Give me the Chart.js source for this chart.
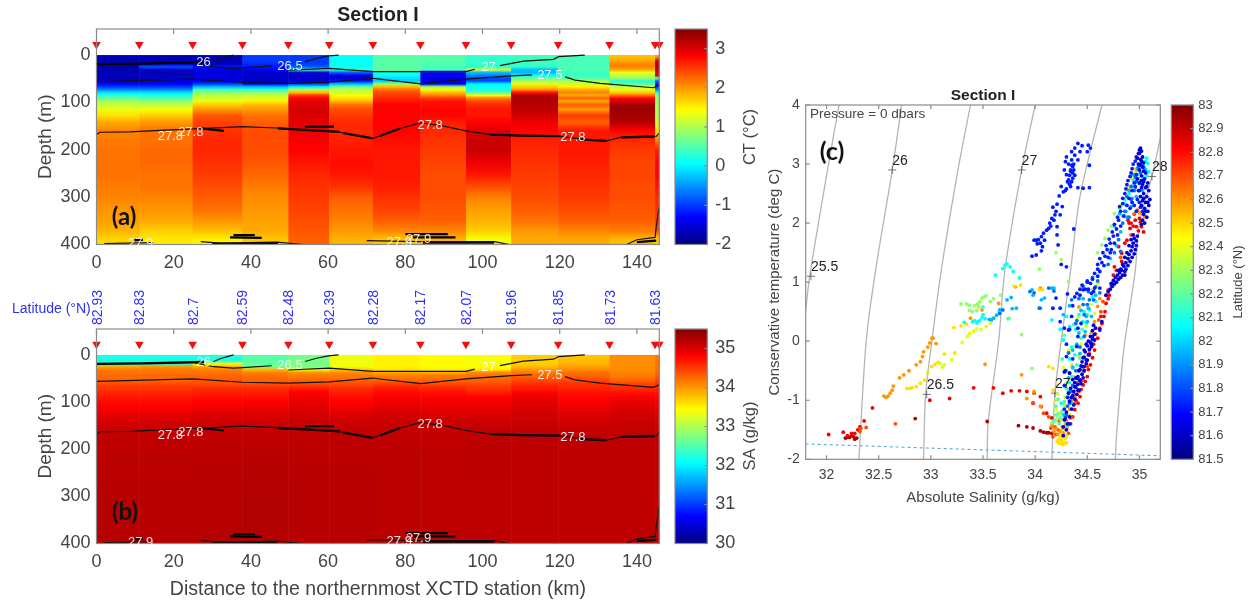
<!DOCTYPE html>
<html>
<head>
<meta charset="utf-8">
<title>Section I</title>
<script src="https://cdn.jsdelivr.net/npm/chart.js@4/dist/chart.umd.min.js"></script>
<style>
  html, body { margin: 0; background: #fff; }
  #page { position: relative; width: 1259px; height: 602px; overflow: hidden; }
  canvas { position: absolute; left: 0; top: 0; }
</style>
</head>
<body>
<div id="page"></div>
<script>
// Station positions and section ticks
const stationKm = [0, 11.1, 24.9, 37.8, 49.7, 60.3, 71.6, 83.9, 95.7, 107.4, 119.6, 132.9, 144.7]
const markerKm = [0, 11.1, 24.9, 37.8, 49.7, 60.3, 71.6, 83.9, 95.7, 107.4, 119.6, 132.9, 144.7, 145.8]
const latitudeLabels = ['82.93', '82.83', '82.7', '82.59', '82.48', '82.39', '82.28', '82.17', '82.07', '81.96', '81.85', '81.73', '81.63']
const kmTicks = [0, 20, 40, 60, 80, 100, 120, 140]
const depthTicks = [0, 100, 200, 300, 400]
const ctTicks = [-2, -1, 0, 1, 2, 3]
const saTicks = [30, 31, 32, 33, 34, 35]
const salinityTicks = [32, 32.5, 33, 33.5, 34, 34.5, 35]
const temperatureTicks = [-2, -1, 0, 1, 2, 3, 4]
const latitudeTicks = [81.5, 81.6, 81.7, 81.8, 81.9, 82, 82.1, 82.2, 82.3, 82.4, 82.5, 82.6, 82.7, 82.8, 82.9, 83]

// Depth edges of the section cells (m)
const depthEdges = [0, 8, 16, 22, 28, 34, 40, 46, 52, 58, 64, 70, 76, 82, 88, 94, 100, 110, 120, 135, 150, 170, 190, 215, 240, 265, 290, 315, 340, 360, 380, 400]

// Conservative temperature per station, one value per depth cell
const ctStation01 = [-1.7, -1.7, -1.7, -1.8, -1.7, -1.7, -1.7, -1.7, -1.6, -1.3, -1.0, -0.6, -0.1, 0.3, 0.6, 0.9, 1.15, 1.3, 1.6, 1.9, 2.1, 2.15, 2.2, 2.2, 2.2, 2.15, 2.1, 2.0, 1.95, 1.85, 1.65]
const ctStation02 = [-1.7, -1.7, -1.6, -0.9, -1.6, -1.7, -1.7, -1.6, -1.5, -1.3, -1.0, -0.6, -0.1, 0.2, 0.5, 0.8, 1.1, 1.4, 1.7, 2.0, 2.2, 2.2, 2.25, 2.25, 2.2, 2.2, 2.1, 2.0, 1.9, 1.7, 1.55]
const ctStation03 = [-1.7, -1.7, -1.7, -1.2, -1.5, -1.5, -1.5, -1.5, -1.4, -1.0, -0.3, 0.4, 0.8, 1.05, 1.2, 1.35, 1.7, 2.0, 2.35, 2.45, 2.55, 2.6, 2.6, 2.55, 2.5, 2.4, 2.3, 2.2, 2.0, 1.8, 1.5]
const ctStation04 = [-1.0, -1.0, -1.1, -1.2, -1.3, -1.6, -1.6, -1.6, -1.6, -1.3, -0.3, 0.3, 0.8, 1.1, 1.3, 1.5, 1.8, 2.0, 2.2, 2.3, 2.4, 2.4, 2.4, 2.35, 2.25, 2.15, 2.05, 2.0, 1.95, 1.9, 1.75]
const ctStation05 = [-1.0, -1.0, -1.0, -0.8, 0.4, -1.5, -1.6, -1.6, -1.5, -1.0, 0.0, 1.0, 1.8, 2.5, 2.8, 2.95, 3.0, 3.05, 3.0, 2.95, 2.9, 2.85, 2.8, 2.7, 2.6, 2.55, 2.5, 2.45, 2.4, 2.35, 2.3]
const ctStation06 = [0.1, 0.1, 0.1, 0.15, 0.3, -0.8, -1.5, -1.5, -1.2, -0.3, 0.6, 1.1, 1.2, 1.4, 1.6, 1.8, 2.2, 2.4, 2.5, 2.6, 2.6, 2.65, 2.7, 2.75, 2.7, 2.55, 2.3, 2.2, 2.1, 2.0, 1.85]
const ctStation07 = [0.55, 0.55, 0.55, 0.55, 0.55, 0.2, 0.1, -0.1, -0.2, 0.9, 1.8, 2.2, 2.4, 2.5, 2.6, 2.7, 2.8, 2.8, 2.8, 2.8, 2.8, 2.75, 2.7, 2.7, 2.7, 2.65, 2.55, 2.45, 2.3, 2.1, 1.75]
const ctStation08 = [0.55, 0.5, 0.5, 0.45, 0.4, -1.3, -1.4, -1.45, -1.45, -1.3, 0.9, 1.4, 1.8, 2.1, 2.5, 2.7, 2.75, 2.8, 2.8, 2.65, 2.6, 2.55, 2.5, 2.45, 2.4, 2.4, 2.4, 2.35, 2.3, 2.1, 1.85]
const ctStation09 = [0.35, 0.35, 0.3, 0.35, 1.3, -0.3, -0.6, -0.9, -0.9, 0.0, 0.1, 0.2, 0.5, 1.4, 2.1, 2.4, 2.6, 2.7, 2.7, 2.8, 3.0, 3.1, 3.1, 2.9, 2.7, 2.4, 2.1, 1.95, 1.85, 1.7, 1.4]
const ctStation10 = [0.4, 0.4, 0.4, 0.3, -0.3, -0.3, 0.1, 0.6, 1.0, 1.3, 1.7, 2.0, 2.7, 3.2, 3.25, 3.25, 3.2, 3.15, 3.05, 2.9, 2.8, 2.65, 2.6, 2.55, 2.5, 2.45, 2.4, 2.3, 2.2, 2.0, 1.9]
const ctStation11 = [0.45, 0.45, 0.45, 0.45, 0.45, 0.4, 0.35, 0.5, 1.0, 1.2, 1.5, 1.9, 2.1, 1.9, 2.3, 1.9, 2.3, 2.0, 2.5, 2.3, 2.7, 2.7, 2.7, 2.65, 2.6, 2.55, 2.5, 2.4, 2.3, 2.1, 1.9]
const ctStation12 = [1.8, 1.9, 2.1, 2.1, 1.9, 1.3, 1.1, 0.9, 0.2, 0.6, 1.1, 1.3, 1.7, 2.2, 2.8, 3.0, 3.3, 3.35, 3.3, 3.2, 2.8, 2.6, 2.5, 2.45, 2.45, 2.4, 2.4, 2.35, 2.3, 2.15, 1.8]
const ctStation13 = [2.0, 3.1, 3.2, 3.2, 3.1, 3.0, 3.0, 0.6, -0.8, -1.2, -1.0, -0.6, 0.2, 0.8, 0.9, 0.9, 0.9, 1.0, 1.0, 1.2, 1.6, 2.1, 2.7, 2.8, 2.8, 2.7, 2.6, 2.55, 2.5, 2.4, 1.7]

// Absolute salinity per station, one value per depth cell
const saStation01 = [32.2, 32.2, 32.25, 33.9, 34.15, 34.2, 34.25, 34.25, 34.3, 34.4, 34.5, 34.55, 34.6, 34.65, 34.7, 34.75, 34.8, 34.85, 34.95, 35.05, 35.12, 35.15, 35.15, 35.18, 35.18, 35.2, 35.2, 35.2, 35.2, 35.2, 35.2]
const saStation02 = [32.2, 32.2, 32.3, 34.0, 34.15, 34.2, 34.25, 34.25, 34.3, 34.4, 34.5, 34.55, 34.6, 34.65, 34.7, 34.75, 34.8, 34.85, 34.95, 35.05, 35.12, 35.15, 35.15, 35.18, 35.18, 35.2, 35.2, 35.2, 35.2, 35.2, 35.2]
const saStation03 = [32.25, 32.25, 33.4, 33.9, 34.1, 34.2, 34.25, 34.3, 34.35, 34.4, 34.5, 34.6, 34.65, 34.7, 34.75, 34.8, 34.85, 34.9, 35.0, 35.08, 35.12, 35.15, 35.16, 35.18, 35.2, 35.2, 35.2, 35.2, 35.2, 35.2, 35.2]
const saStation04 = [32.55, 32.55, 32.6, 32.7, 33.8, 34.1, 34.2, 34.25, 34.3, 34.4, 34.5, 34.6, 34.65, 34.7, 34.75, 34.8, 34.85, 34.92, 35.0, 35.08, 35.14, 35.16, 35.18, 35.2, 35.2, 35.22, 35.22, 35.22, 35.22, 35.22, 35.2]
const saStation05 = [32.7, 32.7, 32.7, 32.75, 33.3, 34.0, 34.15, 34.2, 34.3, 34.4, 34.55, 34.7, 34.8, 34.85, 34.88, 34.9, 34.95, 35.0, 35.05, 35.1, 35.14, 35.16, 35.18, 35.18, 35.2, 35.2, 35.2, 35.2, 35.2, 35.2, 35.2]
const saStation06 = [33.35, 33.35, 33.35, 33.4, 33.7, 34.05, 34.15, 34.2, 34.3, 34.4, 34.5, 34.6, 34.65, 34.7, 34.75, 34.8, 34.85, 34.9, 35.0, 35.08, 35.14, 35.16, 35.18, 35.18, 35.2, 35.2, 35.2, 35.2, 35.2, 35.2, 35.2]
const saStation07 = [33.5, 33.5, 33.5, 33.5, 33.55, 33.9, 34.1, 34.2, 34.3, 34.45, 34.6, 34.7, 34.75, 34.8, 34.85, 34.88, 34.92, 34.98, 35.05, 35.1, 35.13, 35.15, 35.17, 35.18, 35.18, 35.18, 35.18, 35.18, 35.18, 35.18, 35.18]
const saStation08 = [33.45, 33.45, 33.45, 33.45, 33.5, 33.85, 34.15, 34.2, 34.3, 34.4, 34.55, 34.65, 34.72, 34.78, 34.82, 34.86, 34.9, 34.96, 35.02, 35.08, 35.12, 35.14, 35.15, 35.16, 35.16, 35.16, 35.16, 35.16, 35.16, 35.16, 35.15]
const saStation09 = [33.4, 33.4, 33.4, 33.45, 33.55, 34.05, 34.2, 34.25, 34.3, 34.4, 34.5, 34.55, 34.65, 34.75, 34.82, 34.86, 34.9, 34.96, 35.02, 35.08, 35.14, 35.17, 35.18, 35.18, 35.18, 35.16, 35.16, 35.16, 35.16, 35.16, 35.15]
const saStation10 = [33.7, 33.7, 33.7, 33.8, 34.0, 34.15, 34.25, 34.35, 34.45, 34.55, 34.65, 34.7, 34.8, 34.88, 34.92, 34.94, 34.98, 35.02, 35.06, 35.1, 35.14, 35.16, 35.16, 35.16, 35.16, 35.16, 35.16, 35.16, 35.16, 35.16, 35.15]
const saStation11 = [33.75, 33.8, 33.85, 33.95, 34.05, 34.2, 34.25, 34.35, 34.45, 34.55, 34.6, 34.65, 34.72, 34.75, 34.8, 34.82, 34.88, 34.92, 35.0, 35.06, 35.12, 35.15, 35.15, 35.15, 35.16, 35.16, 35.16, 35.16, 35.16, 35.16, 35.15]
const saStation12 = [34.05, 34.05, 34.05, 34.05, 34.05, 34.1, 34.15, 34.2, 34.3, 34.45, 34.55, 34.62, 34.7, 34.78, 34.85, 34.9, 34.96, 35.02, 35.06, 35.1, 35.13, 35.15, 35.15, 35.15, 35.16, 35.16, 35.16, 35.16, 35.16, 35.16, 35.15]
const saStation13 = [34.15, 34.2, 34.2, 34.2, 34.25, 34.25, 34.3, 34.4, 34.5, 34.55, 34.6, 34.65, 34.7, 34.75, 34.8, 34.85, 34.9, 34.95, 35.0, 35.05, 35.1, 35.13, 35.15, 35.15, 35.16, 35.16, 35.16, 35.16, 35.16, 35.16, 35.15]

// Isopycnal contours, [km, depth]
const contour26Up = [[30.3, 14], [32.4, 7], [35.5, 0]]
const contour265Left = [[25, 16], [30.3, 25], [35.5, 28], [37.8, 27], [45.4, 23]]
const contour265Up = [[54, 14], [57, 7], [60, 2], [62.7, 0]]
const contour27Main = [[49.7, 32], [60.3, 28], [71.6, 35], [84, 35], [95.7, 35], [98, 30]]
const contour27Up = [[104.5, 22.5], [110.6, 13], [118.4, 9], [119.7, 3.5], [126.5, 0]]
const contour275Left = [[0, 56], [25, 51], [37.8, 58], [49.7, 60], [60.3, 57], [71.6, 49], [73.4, 51], [84, 61], [95.7, 51], [107.4, 44], [112.8, 42]]
const contour275Right = [[121.4, 46], [124, 53], [130.5, 60], [144.3, 69], [145.8, 63]]
const contour278 = [[0, 168], [0.9, 163], [8.7, 162], [16.5, 159], [28.5, 155], [37.6, 151], [46.7, 154], [54.4, 158], [63, 163], [71.6, 176], [73.4, 171], [78.6, 155], [84, 143], [90, 150], [95.7, 160], [102, 168], [110.7, 170], [119.6, 171], [126.3, 178], [132.2, 181], [135.7, 174], [145, 172], [145.8, 165]]
const contour279Left = [[2, 398], [8, 397], [14.7, 396]]
const contour279Mid = [[27, 394], [32, 397], [46.7, 395], [53.6, 400]]
const contour279Right = [[70, 392], [84, 394], [103, 394], [107, 400]]
const contour279Edge = [[137.3, 400], [140, 390], [144.7, 385], [145, 363], [145.8, 320]]
const thinContours = [contour26Up, contour265Left, contour265Up, contour27Main, contour27Up, contour275Left, contour275Right, contour278, contour279Left, contour279Mid, contour279Right, contour279Edge]

const blob26 = [[0, 19], [12, 18], [28, 15]]
const blob278A = [[27, 155], [33, 160]]
const blob278B = [[47, 155], [54, 158], [63, 162]]
const blob278C = [[54, 151], [61.5, 151]]
const blob278D = [[64, 165], [71.6, 176]]
const blob278E = [[73.4, 171], [78.6, 155]]
const blob278F = [[102, 168], [110, 170], [120, 171]]
const blob278G = [[125, 178], [132, 181]]
const blob278H = [[136, 174], [144.5, 172]]
const blob279A = [[9.5, 391], [12, 390]]
const blob279B = [[35.5, 380], [41, 380]]
const blob279C = [[34.6, 385], [42.8, 386]]
const blob279D = [[30, 398], [47, 398]]
const blob279E = [[80, 378], [91, 378]]
const blob279F = [[82, 385], [93, 385]]
const blob279G = [[84.5, 396], [103, 396]]
const blob279H = [[140, 395], [145, 392]]
const thickContours = [blob26, blob278A, blob278B, blob278C, blob278D, blob278E, blob278F, blob278G, blob278H, blob279A, blob279B, blob279C, blob279D, blob279E, blob279F, blob279G, blob279H]

const contourLabelText = ['26', '26.5', '27', '27.5', '27.8', '27.8', '27.8', '27.8', '27.9', '27.9', '27.9']
const contourLabelKm = [28.7, 49.7, 102.5, 117, 18.7, 24, 86, 123, 11, 78, 83]
const contourLabelDepth = [15, 23, 27, 44, 171, 164, 148, 174, 397, 396, 390]

// T-S scatter per station, [absolute salinity, conservative temperature]
const ts8163 = [[34.27, -1.6], [34.3, -1.5], [34.27, -1.45], [34.31, -1.4], [34.28, -1.33], [34.33, -1.28], [34.3, -1.2], [34.35, -1.15], [34.37, -1.08], [34.33, -1.02], [34.38, -0.98], [34.36, -0.92], [34.4, -0.9], [34.37, -0.85], [34.42, -0.83], [34.39, -0.78], [34.41, -0.73], [34.44, -0.72], [34.38, -0.7], [34.43, -0.66], [34.46, -0.62], [34.41, -0.6], [34.45, -0.56], [34.47, -0.5], [34.43, -0.48], [34.47, -0.43], [34.49, -0.38], [34.45, -0.35], [34.5, -0.32], [34.47, -0.27], [34.51, -0.23], [34.48, -0.18], [34.52, -0.14], [34.5, -0.08], [34.54, -0.05], [34.51, 0], [34.55, 0.03], [34.53, 0.08], [34.57, 0.12], [34.55, 0.18], [34.58, 0.22], [34.56, 0.27],
  [34.68, 0.78], [34.7, 0.84], [34.72, 0.88], [34.74, 0.93], [34.76, 0.97], [34.73, 0.98], [34.78, 1.0], [34.75, 1.03], [34.8, 1.05], [34.77, 1.08], [34.82, 1.08], [34.79, 1.12], [34.84, 1.12], [34.81, 1.16], [34.86, 1.18], [34.83, 1.2], [34.87, 1.22], [34.85, 1.27], [34.89, 1.28], [34.87, 1.33], [34.91, 1.35], [34.89, 1.4], [34.93, 1.42], [34.9, 1.47], [34.95, 1.48], [34.92, 1.53], [34.96, 1.55], [34.93, 1.6], [34.97, 1.62], [34.94, 1.66], [34.97, 1.7], [34.95, 1.74], [34.98, 1.78],
  [35.05, 2.0], [35.07, 2.1], [35.04, 2.15], [35.08, 2.2], [35.05, 2.25], [35.09, 2.3], [35.06, 2.35], [35.1, 2.4], [35.07, 2.45], [35.04, 2.5], [35.09, 2.55], [35.06, 2.6], [35.03, 2.65], [35.08, 2.68], [35.05, 2.75], [35.02, 2.8], [35.06, 2.85], [35.0, 2.9], [35.03, 2.95], [34.99, 3.0], [35.04, 3.02], [35.01, 3.08], [34.98, 3.1], [35.03, 3.12], [35.0, 3.18], [35.02, 3.22], [35.01, 3.27], [35.0, 3.24],
  [35.02, 2.3], [35.03, 2.38], [35.01, 2.45], [35.0, 2.55], [35.02, 2.6], [35.0, 2.68], [34.98, 2.75],
  [34.28, -0.52], [34.33, -0.54], [34.4, -0.63], [34.38, -0.77], [34.43, -0.66], [34.41, -0.83], [34.46, -0.43], [34.49, -0.32], [34.54, -0.09], [34.52, -0.23], [34.57, 0.02], [34.62, 0.19], [34.64, 0.33], [34.35, -0.95], [34.34, -0.8], [34.36, -0.65], [34.32, -0.88], [34.39, -0.62], [34.42, -0.5], [34.44, -0.42], [34.46, -0.28], [34.47, -0.15], [34.49, -0.05], [34.53, -0.02], [34.55, 0.08],
  [34.88, 1.5], [34.86, 1.42], [34.84, 1.3], [34.9, 1.62], [34.92, 1.72], [34.94, 1.8], [34.82, 1.22], [34.8, 1.2], [34.86, 1.12], [35.02, 1.98], [35.03, 2.05], [35.06, 2.2], [35.08, 2.35], [35.04, 2.42], [35.07, 2.62], [35.04, 2.7], [35.02, 2.72], [35.04, 2.88], [35.01, 2.98], [35.02, 3.05]]
const ts8173 = [[34.41, 3.35], [34.51, 3.32], [34.45, 3.31], [34.53, 3.27], [34.38, 3.27], [34.35, 3.21], [34.43, 3.21], [34.5, 3.21], [34.3, 3.12], [34.35, 3.07], [34.38, 3.15], [34.29, 3.04], [34.41, 3.07], [34.52, 2.98], [34.35, 2.98], [34.37, 2.9], [34.28, 2.9], [34.33, 2.81], [34.38, 2.81], [34.32, 2.73], [34.35, 2.7], [34.25, 2.62], [34.41, 2.6], [34.46, 2.59], [34.52, 2.6], [34.27, 2.53], [34.23, 2.46], [34.21, 2.32], [34.26, 2.28], [34.17, 2.27], [34.19, 2.14], [34.16, 2.08], [34.24, 2.14], [34.14, 2.0], [34.13, 1.91], [34.21, 1.94], [34.08, 1.83], [34.06, 1.77], [34.01, 1.71], [34.05, 1.66], [34.09, 1.71], [33.99, 1.71], [34.21, 1.8], [34.22, 1.63], [34.37, 1.9], [33.97, 1.44], [34.06, 1.53], [34.01, 1.46], [34.3, 1.26], [34.25, 1.3], [34.36, 2.96], [34.34, 2.88], [34.36, 2.76], [34.33, 2.66], [34.3, 2.58],
  [34.32, 3.0], [34.37, 3.0], [34.34, 2.9], [34.3, 2.82], [34.36, 2.85], [34.31, 2.7], [34.34, 2.62], [34.29, 2.55], [34.2, 2.2], [34.18, 2.05], [34.15, 1.95], [34.11, 1.88], [34.03, 1.72], [34.02, 1.65], [34.07, 1.6],
  [34.99, 3.18], [34.96, 3.05], [34.93, 2.92], [34.91, 2.79], [34.88, 2.65], [34.86, 2.5], [34.84, 2.33], [34.82, 2.2], [34.8, 2.05], [34.78, 1.9], [34.75, 1.78], [34.72, 1.66], [34.69, 1.55], [34.67, 1.44], [34.64, 1.33], [34.6, 1.22], [34.57, 1.15], [34.7, 1.42], [34.73, 1.55], [34.76, 1.66], [34.79, 1.8], [34.82, 1.95], [34.85, 2.12], [34.88, 2.3], [34.9, 2.42], [34.93, 2.55], [34.95, 2.68], [34.97, 2.82],
  [34.6, 1.3], [34.62, 1.4], [34.65, 1.5], [34.68, 1.62], [34.71, 1.73], [34.74, 1.85], [34.76, 1.98], [34.79, 2.1], [34.81, 2.28], [34.84, 2.42], [34.87, 2.58], [34.89, 2.72], [34.92, 2.85], [34.94, 3.0], [34.97, 3.12], [34.72, 1.5], [34.66, 1.28], [34.62, 1.18], [34.55, 1.05], [34.5, 1.0],
  [34.97, 2.2], [34.95, 2.3], [34.98, 2.4], [35.0, 2.35], [34.99, 2.55], [34.96, 2.62], [35.03, 2.2], [35.01, 2.27], [34.93, 2.35], [34.91, 2.25],
  [34.32, 0.19], [34.41, 0.08], [34.3, -0.26], [34.4, -0.09], [34.29, -0.5], [34.33, -0.54], [34.24, 0.33], [34.35, 0.42], [34.56, 0.84], [34.62, 0.9], [34.6, 1.1], [34.4, 0.81], [34.38, 0.75], [34.2, 0.73], [34.24, 0.56], [34.17, 0.56], [34.31, 0.8], [34.45, 0.95], [34.5, 1.02], [34.53, 0.98], [34.48, 0.88], [34.43, 0.88], [34.36, 0.6], [34.3, -0.05], [34.36, -0.3], [34.28, -0.75], [34.31, -0.95], [34.28, -1.15], [34.33, -1.4], [34.29, -1.3],
  [34.43, 0.78], [34.46, 0.87], [34.51, 0.88], [34.54, 0.81], [34.57, 0.9], [34.28, 0.22], [34.33, 0.2], [34.41, 0.22], [34.44, 0.3]]
const ts8185 = [[33.95, 0.84], [33.99, 0.82], [34.04, 0.56], [34.13, 0.9], [34.18, 0.85], [34.35, 0.7], [34.42, 0.72], [34.51, 0.84], [34.46, 0.93], [34.6, 1.02], [33.69, 0.53], [33.66, 0.47], [34.46, 0.62], [34.58, 0.92], [34.55, 1.08], [34.52, 0.7], [34.39, 0.3],
  [34.9, 2.1], [34.88, 2.45], [34.92, 2.62], [34.96, 2.78], [34.99, 2.95], [35.02, 3.02], [34.84, 2.0], [34.8, 1.72], [34.76, 1.5], [34.7, 1.3], [34.82, 1.52], [34.31, -1.1], [34.34, -0.85],
  [34.32, -0.2], [34.4, 0.35], [34.47, 0.45], [34.5, 0.62], [34.56, 0.7], [34.62, 0.82], [34.3, -1.25], [34.33, -1.05], [34.36, -0.75], [34.39, -0.5], [34.43, -0.1], [34.47, 0.08], [34.86, 2.2], [34.92, 2.4], [34.95, 2.55], [34.97, 2.7], [35.01, 2.85], [35.04, 2.95]]
const ts8196 = [[33.58, 0.36], [33.6, 0.39], [33.63, 0.44], [33.56, 0.37], [33.73, 0.7], [33.77, 0.74], [33.82, 0.56], [33.78, 0.55], [33.66, 0.53], [33.97, 0.87], [33.98, 0.78], [34.06, 0.7], [34.09, 0.73], [34.05, 0.56], [34.16, 0.9], [34.18, 0.9], [34.51, 0.56], [34.54, 0.42], [34.5, 0.33], [34.48, 0.16], [34.43, -0.21], [34.36, -0.45], [34.58, 0.78], [34.44, 0.52], [34.42, 0.14],
  [35.04, 2.73], [35.0, 2.67], [34.97, 2.45], [34.92, 2.28], [34.81, 2.16], [34.76, 1.95], [34.87, 2.2], [34.9, 2.55], [34.94, 2.82], [34.98, 2.92], [34.72, 1.4], [34.78, 1.62],
  [34.27, 0.45], [34.33, 0.6], [34.46, 0.72], [34.49, 0.42], [34.4, -0.05], [34.36, -0.15], [34.32, -0.62], [34.34, -0.98], [34.28, -1.25], [35.02, 3.05], [35.06, 2.9], [35.03, 2.55], [34.96, 2.6], [34.93, 2.42], [34.88, 2.1], [34.82, 1.85]]
const ts8207 = [[33.62, 1.12], [33.71, 1.29], [33.73, 1.31], [33.79, 1.18], [33.76, 1.26], [33.85, 1.07], [33.69, 1.23], [33.32, 0.32], [33.42, 0.35], [33.45, 0.33], [33.47, 0.35], [33.49, 0.4], [33.5, 0.45], [33.52, 0.38], [33.4, 0.33], [33.44, 0.31],
  [34.38, -0.23], [34.36, -0.43], [34.46, 0.33], [34.52, 0.53], [34.58, 0.68], [34.16, 0.36], [34.3, 0.42], [34.24, 0.2], [34.42, 0.45], [34.35, -0.1], [34.33, -0.7], [34.35, -1.05],
  [35.07, 3.1], [35.08, 3.01], [35.05, 2.93], [35.09, 2.87], [35.0, 2.9], [34.95, 2.72], [34.9, 2.5], [34.86, 2.32], [35.06, 3.05], [35.07, 2.8], [34.98, 2.82],
  [34.27, 0.02], [34.33, 0.25], [34.39, 0.2], [34.47, 0.5], [34.55, 0.75], [34.33, -0.3], [34.3, -0.5], [34.32, -0.85], [34.25, -1.05], [34.27, -1.25], [34.3, -1.45], [35.03, 2.98], [35.04, 2.78], [34.99, 2.75], [34.93, 2.62], [34.84, 2.12]]
const ts8217 = [[34.2, -1.1], [34.22, -0.98], [34.32, -0.94], [34.3, -0.8], [34.35, -0.6], [34.43, -0.29], [34.45, 0.2], [34.49, 0.3], [34.24, -1.3], [34.26, -1.18], [34.3, -1.38], [34.18, -1.35],
  [34.81, 2.25], [34.86, 2.39], [33.74, 0.38], [33.5, 0.58], [34.28, 0.1], [34.37, 0.28], [34.23, -1.4], [34.2, -1.25], [34.28, -1.02], [34.31, -0.7], [34.4, -0.4], [34.44, 0.05], [34.5, 0.45], [34.26, -0.3]]
const ts8228 = [[33.29, 0.63], [33.34, 0.63], [33.37, 0.61], [33.42, 0.6], [33.45, 0.63], [33.47, 0.67], [33.49, 0.73], [33.53, 0.77], [33.57, 0.67], [33.37, 0.52], [33.4, 0.5], [33.44, 0.52], [33.46, 0.58], [33.6, 0.72], [33.67, 0.78], [33.51, 0.75], [33.87, 0.11], [33.75, 0.39], [33.97, -0.46], [34.16, -1.38], [34.2, -1.33], [34.22, -1.22], [34.27, -1.05], [34.25, -1.22], [34.45, 0.33], [34.38, -0.09], [34.32, 1.01],
  [34.76, 2.16], [34.73, 1.95], [34.7, 1.88], [34.67, 1.74], [34.64, 1.63], [34.6, 1.5], [34.2, 1.5], [34.04, 1.22], [34.25, 1.38]]
const ts8239 = [[33.3, -0.02], [33.35, 0.08], [33.37, 0.13], [33.41, 0.17], [33.44, 0.21], [33.48, 0.2], [33.53, 0.25], [33.57, 0.3], [33.61, 0.39], [33.65, 0.5], [33.2, -0.31], [33.13, -0.4], [33.11, -0.44], [33.09, -0.38], [34.2, -1.16], [34.23, -1.22], [34.25, -1.33], [34.32, -0.15], [34.33, -0.18], [34.49, 0.25], [34.57, 0.47], [34.6, 0.98], [34.3, -0.7], [34.27, -0.45], [34.82, 2.3], [34.88, 2.55],
  [34.22, -0.9], [34.29, -0.95], [34.35, -0.4], [34.44, -0.05], [34.41, 0.4], [34.53, 0.62], [34.28, -1.08], [34.21, -1.3]]
const ts8248 = [[32.77, -0.8], [32.8, -0.8], [32.82, -0.79], [32.86, -0.77], [32.9, -0.71], [32.94, -0.66], [32.97, -0.53], [33.01, -0.43], [33.04, -0.39], [33.07, -0.36], [33.13, -0.22], [33.23, -0.2], [33.22, 0.23], [33.29, 0.26], [33.34, 0.29], [34.13, -0.43], [34.17, -0.46], [34.17, -0.83], [34.2, -1.0], [34.25, -1.67], [34.22, -1.67], [34.24, -1.7], [34.27, -1.7], [34.29, -1.65], [34.26, -1.62], [34.23, -1.73], [34.26, -1.75], [34.3, -1.6], [33.8, 0.93], [33.86, 0.95], [34.04, 0.87], [34.07, 0.87], [34.55, 0.87], [34.6, 1.0], [34.92, 2.76], [34.89, 2.59], [34.96, 2.84], [34.97, 2.92], [34.28, -1.5], [34.32, -0.98], [34.34, -0.8],
  [34.24, -1.62], [34.21, -1.7], [34.28, -1.73], [34.3, -1.72], [34.25, -1.58], [34.33, -1.25], [34.37, -0.6], [34.42, -0.25], [34.52, 0.55]]
const ts8259 = [[32.55, -0.93], [32.57, -0.95], [32.59, -0.93], [32.61, -0.88], [32.63, -0.83], [32.64, -0.76], [32.7, -0.62], [32.74, -0.57], [32.79, -0.5], [32.86, -0.4], [32.9, -0.35], [32.92, -0.26], [32.93, -0.18], [32.97, -0.1], [32.99, -0.03], [33.01, 0.05], [33.02, 0.05], [33.05, -0.04], [33.52, -0.39], [33.38, 0.39], [33.49, 0.53], [33.65, 0.64], [33.87, -0.57], [33.81, 0.92], [34.05, 0.9], [33.99, -0.85], [33.92, -0.97], [34.05, -1.1], [34.22, -1.58], [34.26, -1.45], [34.18, -1.53], [34.29, -1.4], [34.46, -0.49], [34.5, -0.32], [34.57, 0.33], [34.6, 0.59], [34.62, 0.72], [34.94, 2.73], [34.97, 2.9], [34.91, 2.56], [35.0, 2.17], [35.05, 2.11], [34.33, -1.15], [34.38, -0.95],
  [34.2, -1.48], [34.24, -1.52], [34.27, -1.55], [34.31, -1.45], [34.16, -1.42], [34.35, -1.0], [34.41, -0.72], [34.54, 0.15], [34.48, 0.1], [34.42, 0.58]]
const ts8270 = [[32.32, -1.53], [32.38, -1.46], [32.33, -1.48], [32.66, -1.4], [34.19, -1.45], [34.22, -1.5], [34.25, -1.56], [34.2, -1.58], [34.32, -1.56], [34.35, -1.28], [34.38, -1.05], [34.08, -1.22], [34.06, -1.11], [34.13, -1.28], [33.98, -1.04], [33.99, -0.88], [34.45, -0.66], [34.5, -0.43], [34.54, -0.1], [34.61, 0.36], [34.65, 0.67], [34.7, 0.87], [34.3, -1.6], [34.17, -1.62], [34.23, -1.35], [34.42, -0.85], [34.95, 2.15], [34.98, 2.22], [34.92, 1.8], [34.82, 1.42],
  [34.15, -1.47], [34.27, -1.47], [34.3, -1.35], [34.34, -1.3], [34.37, -0.9], [34.41, -0.7], [34.47, -0.5], [34.52, -0.2], [34.58, 0.12], [34.63, 0.5], [34.68, 0.78]]
const ts8283 = [[32.02, -1.58], [32.16, -1.54], [32.2, -1.6], [32.24, -1.56], [32.27, -1.56], [32.3, -1.5], [32.32, -1.45], [32.36, -1.35], [32.44, -1.13], [32.99, -1.0], [33.18, -0.97], [33.41, -0.79], [33.6, -0.79], [33.69, -0.88], [33.77, -0.84], [33.85, -0.84], [33.92, -0.85], [34.05, -0.94], [33.98, -1.05], [34.11, -1.22], [34.16, -1.3], [34.38, -1.16], [34.43, -0.94], [34.46, -0.74], [34.5, -0.6], [34.53, -0.4], [34.57, -0.15], [34.62, 0.22], [34.64, 0.3], [34.67, 0.5], [34.68, 0.64], [34.71, 0.78], [34.75, 1.12], [34.78, 1.2], [34.34, -1.4], [34.41, -1.05], [34.48, -0.68], [34.55, -0.28], [34.6, 0.05],
  [34.36, -1.28], [34.44, -0.82], [34.51, -0.48], [34.56, -0.05], [34.63, 0.42], [34.66, 0.42], [34.7, 0.72], [34.73, 0.95], [34.39, -1.0],
  [34.92, 2.0], [34.96, 2.05], [35.0, 2.08], [35.02, 1.94], [34.97, 1.94], [34.91, 1.91], [35.04, 1.85], [35.01, 2.02], [34.94, 1.95], [34.99, 1.87], [34.89, 2.05], [34.83, 1.49], [34.88, 1.71], [34.86, 1.66], [34.76, 1.26], [34.83, 1.35], [34.9, 2.0], [34.8, 1.6]]
const ts8293 = [[32.18, -1.64], [32.22, -1.63], [32.27, -1.66], [32.24, -1.6], [32.29, -1.64], [32.2, -1.63], [32.26, -1.62], [32.85, -1.31], [33.54, -1.36], [33.84, -1.43], [33.92, -1.45], [33.98, -1.47], [34.05, -1.52], [34.08, -1.54], [34.11, -1.55], [34.16, -1.56], [34.13, -1.55]]
const tsStations = [ts8163, ts8173, ts8185, ts8196, ts8207, ts8217, ts8228, ts8239, ts8248, ts8259, ts8270, ts8283, ts8293]
const tsLatitudes = [81.63, 81.73, 81.85, 81.96, 82.07, 82.17, 82.28, 82.39, 82.48, 82.59, 82.7, 82.83, 82.93]

// Isopycnals of the T-S panel, [absolute salinity, conservative temperature]
const iso255 = [[32.12, 4], [32.02, 3.01], [31.84, 1.12], [31.8, 0.53]]
const iso26 = [[32.72, 4], [32.63, 2.9], [32.47, 1.2], [32.38, 0], [32.31, -2]]
const iso265 = [[33.38, 4], [33.26, 2.9], [33.1, 1.2], [33.01, 0], [32.95, -0.9], [32.93, -2]]
const iso27 = [[34.0, 4], [33.87, 2.9], [33.71, 1.2], [33.65, 0], [33.55, -1.36], [33.54, -2]]
const iso275 = [[34.64, 4], [34.43, 2.45], [34.34, 1.2], [34.25, 0], [34.19, -0.88], [34.16, -2]]
const iso28 = [[35.2, 3.44], [35.12, 2.79], [35.0, 2.0], [34.96, 1.2], [34.86, 0], [34.83, -0.49], [34.78, -1.6], [34.77, -2]]
const freezingLine = [[31.8, -1.74], [35.2, -1.94]]
const isoLabelText = ['25.5', '26', '26.5', '27', '27', '28']
const isoLabelSalinity = [31.85, 32.63, 32.96, 33.87, 34.19, 35.12]
const isoLabelTemperature = [1.1, 2.9, -0.9, 2.9, -0.88, 2.79]

const PAGE_W = 1259
const PAGE_H = 602
const AXIS_GREY = '#444'
const FRAME_GREY = '#8a8a8a'
const KM_MAX = 145.8

Chart.defaults.font.family = '"Liberation Sans", Arial, sans-serif'
Chart.defaults.animation = false

const clamp01 = (v) => Math.min(1, Math.max(0, v))

/**
 * MATLAB jet colormap.
 *
 * @param {number} t - Position in the colormap, 0 to 1.
 * @returns {string} - CSS colour.
 */
function jet(t) {
  const r = clamp01(1.5 - Math.abs(4 * t - 3))
  const g = clamp01(1.5 - Math.abs(4 * t - 2))
  const b = clamp01(1.5 - Math.abs(4 * t - 1))
  return `rgb(${Math.round(r * 255)},${Math.round(g * 255)},${Math.round(b * 255)})`
}

// Creates a page-sized canvas, the plot area itself is placed through layout padding
function addCanvas() {
  const canvas = document.createElement('canvas')
  canvas.width = PAGE_W
  canvas.height = PAGE_H
  canvas.style.width = PAGE_W + 'px'
  canvas.style.height = PAGE_H + 'px'
  document.getElementById('page').appendChild(canvas)
  return canvas
}

function placePadding(box, axes) {
  return {
    left: box.left - (axes.left || 0),
    right: PAGE_W - box.right - (axes.right || 0),
    top: box.top - (axes.top || 0),
    bottom: PAGE_H - box.bottom - (axes.bottom || 0),
  }
}

// Section columns, each shaded through its depth cells on the chart scales
function heatPlugin(profiles, min, max) {
  return {
    id: 'heatCells',
    beforeDatasetsDraw(chart) {
      const { ctx, scales } = chart
      const lastEdge = depthEdges[depthEdges.length - 1]
      const yTop = scales.y.getPixelForValue(0)
      const yBottom = scales.y.getPixelForValue(lastEdge)
      profiles.forEach((profile, col) => {
        const x0 = scales.x.getPixelForValue(stationKm[col])
        const x1 = scales.x.getPixelForValue(col + 1 < stationKm.length ? stationKm[col + 1] : KM_MAX)
        const shade = ctx.createLinearGradient(0, yTop, 0, yBottom)
        profile.forEach((value, row) => {
          const mid = (depthEdges[row] + depthEdges[row + 1]) / 2
          shade.addColorStop(mid / lastEdge, jet((value - min) / (max - min)))
        })
        ctx.fillStyle = shade
        ctx.fillRect(x0, yTop, x1 - x0 + 0.5, yBottom - yTop)
      })
    },
  }
}

// Box round the plot area with short inward ticks
function framePlugin(sides, tickLen) {
  return {
    id: 'axesFrame',
    afterDatasetsDraw(chart) {
      const { ctx, chartArea: a, scales } = chart
      ctx.save()
      ctx.strokeStyle = FRAME_GREY
      ctx.lineWidth = 1.2
      ctx.strokeRect(a.left, a.top, a.right - a.left, a.bottom - a.top)
      ctx.beginPath()
      if (sides.top || sides.bottom) {
        scales.x.ticks.forEach((tick) => {
          const px = scales.x.getPixelForValue(tick.value)
          if (sides.top) { ctx.moveTo(px, a.top); ctx.lineTo(px, a.top + tickLen) }
          if (sides.bottom) { ctx.moveTo(px, a.bottom); ctx.lineTo(px, a.bottom - tickLen) }
        })
      }
      if (sides.left || sides.right) {
        scales.y.ticks.forEach((tick) => {
          const py = scales.y.getPixelForValue(tick.value)
          if (sides.left) { ctx.moveTo(a.left, py); ctx.lineTo(a.left + tickLen, py) }
          if (sides.right) { ctx.moveTo(a.right, py); ctx.lineTo(a.right - tickLen, py) }
        })
      }
      ctx.stroke()
      ctx.restore()
    },
  }
}

// Text tied to data values, contour and isopycnal labels
function dataTextPlugin(texts, xs, ys, font, color, dx, dy) {
  return {
    id: 'dataText',
    afterDatasetsDraw(chart) {
      const { ctx, scales, chartArea: a } = chart
      ctx.save()
      ctx.beginPath()
      ctx.rect(a.left - 2, a.top, a.right - a.left + 30, a.bottom - a.top + 2)
      ctx.clip()
      ctx.font = font
      ctx.fillStyle = color
      ctx.textBaseline = 'middle'
      texts.forEach((text, i) => {
        ctx.fillText(text, scales.x.getPixelForValue(xs[i]) + dx, scales.y.getPixelForValue(ys[i]) + dy)
      })
      ctx.restore()
    },
  }
}

// Free text in page pixels: titles, panel letters
function pageTextPlugin(items) {
  return {
    id: 'pageText',
    afterDraw(chart) {
      const { ctx } = chart
      items.forEach((item) => {
        ctx.save()
        ctx.translate(item.x, item.y)
        if (item.rotate) ctx.rotate(item.rotate)
        ctx.font = item.font
        ctx.fillStyle = item.color || AXIS_GREY
        ctx.textAlign = item.align || 'center'
        ctx.textBaseline = 'middle'
        ctx.fillText(item.text, 0, 0)
        ctx.restore()
      })
    },
  }
}

function fixedWidth(w) { return (scale) => { scale.width = w } }
function fixedHeight(h) { return (scale) => { scale.height = h } }
function useTicks(values) { return (scale) => { scale.ticks = values.map((value) => ({ value })) } }

const toPoints = (pairs) => pairs.map(([x, y]) => ({ x, y }))

function lineDataset(pairs, color, width, dash, tension) {
  return {
    data: toPoints(pairs),
    showLine: true,
    borderColor: color,
    borderWidth: width,
    borderDash: dash || [],
    tension: tension || 0,
    pointRadius: 0,
  }
}

/**
 * Builds one of the two depth sections.
 */
function sectionChart(box, profiles, min, max, extra) {
  const bottomAxis = extra.showDistanceTitle ? 58 : 30
  const scales = {
    x: {
      type: 'linear',
      min: 0,
      max: KM_MAX,
      afterBuildTicks: useTicks(kmTicks),
      afterFit: fixedHeight(bottomAxis),
      grid: { display: false, drawTicks: false },
      border: { display: false },
      ticks: { color: AXIS_GREY, font: { size: 18 }, padding: 8, maxRotation: 0, autoSkip: false },
      title: extra.showDistanceTitle
        ? { display: true, text: 'Distance to the northernmost XCTD station (km)', color: AXIS_GREY, font: { size: 19.5 }, padding: { top: 2, bottom: 0 } }
        : { display: false },
    },
    y: {
      type: 'linear',
      reverse: true,
      min: -55,
      max: 400,
      afterBuildTicks: useTicks(depthTicks),
      afterFit: fixedWidth(62),
      grid: { display: false, drawTicks: false },
      border: { display: false },
      ticks: { color: AXIS_GREY, font: { size: 18 }, padding: 6, autoSkip: false },
      title: { display: true, text: 'Depth (m)', color: AXIS_GREY, font: { size: 19 }, padding: { top: 0, bottom: 2 } },
    },
  }
  if (extra.showLatitudes) {
    scales.lat = {
      axis: 'x',
      type: 'linear',
      position: 'top',
      min: 0,
      max: KM_MAX,
      afterBuildTicks: useTicks(stationKm),
      afterFit: fixedHeight(42),
      grid: { display: false, drawTicks: false },
      border: { display: false },
      ticks: {
        color: '#3030f0',
        font: { size: 14 },
        padding: 4,
        labelOffset: 18,
        minRotation: 90,
        maxRotation: 90,
        autoSkip: false,
        callback: (value, index) => latitudeLabels[index],
      },
    }
  }
  const datasets = [
    {
      data: markerKm.map((x) => ({ x, y: -22.5 })),
      pointStyle: 'triangle',
      rotation: 180,
      pointRadius: 5,
      backgroundColor: '#f01010',
      borderColor: '#f01010',
      borderWidth: 0,
      clip: false,
    },
    ...thinContours.map((pairs) => lineDataset(pairs, '#111', 1.2)),
    ...thickContours.map((pairs) => lineDataset(pairs, '#000', 2.3)),
  ]
  return new Chart(addCanvas(), {
    type: 'scatter',
    data: { datasets },
    options: {
      responsive: false,
      layout: { padding: placePadding(box, { left: 62, bottom: bottomAxis, top: extra.showLatitudes ? 42 : 0 }) },
      plugins: { legend: { display: false }, tooltip: { enabled: false } },
      scales,
    },
    plugins: [
      heatPlugin(profiles, min, max),
      framePlugin({ top: true }, 5),
      dataTextPlugin(contourLabelText, contourLabelKm, contourLabelDepth, '13px "Liberation Sans"', 'rgba(255,255,255,0.88)', -11, 0),
      pageTextPlugin(extra.texts),
    ],
  })
}

/**
 * Builds a colorbar as one floating bar with a jet gradient.
 */
function colorbarChart(box, min, max, tickValues, axisWidth, fontSize, padding, tickLen, texts) {
  return new Chart(addCanvas(), {
    type: 'bar',
    data: {
      labels: ['colorbar'],
      datasets: [
        {
          data: [[min, max]],
          barPercentage: 1,
          categoryPercentage: 1,
          backgroundColor: (context) => {
            const area = context.chart.chartArea
            if (!area) return '#000'
            const gradient = context.chart.ctx.createLinearGradient(0, area.bottom, 0, area.top)
            const stops = [0, 0.125, 0.375, 0.625, 0.875, 1]
            stops.forEach((stop) => gradient.addColorStop(stop, jet(stop)))
            return gradient
          },
        },
      ],
    },
    options: {
      responsive: false,
      layout: { padding: placePadding(box, { right: axisWidth }) },
      plugins: { legend: { display: false }, tooltip: { enabled: false } },
      scales: {
        x: { display: false },
        y: {
          position: 'right',
          min,
          max,
          afterBuildTicks: useTicks(tickValues),
          afterFit: fixedWidth(axisWidth),
          grid: { display: false, drawTicks: false },
          border: { display: false },
          ticks: { color: AXIS_GREY, font: { size: fontSize }, padding, autoSkip: false, callback: (v) => String(v) },
        },
      },
    },
    plugins: [framePlugin({ right: true }, tickLen), pageTextPlugin(texts)],
  })
}

/**
 * Builds the T-S diagram of panel (c).
 */
function tsChart(box) {
  const datasets = [
    ...tsStations.map((pairs, i) => ({
      data: toPoints(pairs),
      pointRadius: 1.9,
      pointBorderWidth: 0,
      backgroundColor: jet((tsLatitudes[i] - 81.5) / 1.5),
    })),
    {
      data: isoLabelSalinity.map((x, i) => ({ x, y: isoLabelTemperature[i] })),
      pointStyle: 'cross',
      pointRadius: 4,
      borderColor: '#555',
      borderWidth: 0.8,
    },
    lineDataset(freezingLine, '#5aa8da', 1.1, [3, 3]),
    ...[iso255, iso26, iso265, iso27, iso275, iso28].map((pairs) => lineDataset(pairs, '#b4b4b4', 1.3, [], 0.3)),
  ]
  return new Chart(addCanvas(), {
    type: 'scatter',
    data: { datasets },
    options: {
      responsive: false,
      layout: { padding: placePadding(box, { left: 40, bottom: 48 }) },
      plugins: { legend: { display: false }, tooltip: { enabled: false } },
      scales: {
        x: {
          type: 'linear',
          min: 31.8,
          max: 35.2,
          afterBuildTicks: useTicks(salinityTicks),
          afterFit: fixedHeight(48),
          grid: { display: false, drawTicks: false },
          border: { display: false },
          ticks: { color: AXIS_GREY, font: { size: 14 }, padding: 7, maxRotation: 0, autoSkip: false, callback: (v) => String(v) },
          title: { display: true, text: 'Absolute Salinity (g/kg)', color: AXIS_GREY, font: { size: 15 }, padding: { top: 2, bottom: 0 } },
        },
        y: {
          type: 'linear',
          min: -2,
          max: 4,
          afterBuildTicks: useTicks(temperatureTicks),
          afterFit: fixedWidth(40),
          grid: { display: false, drawTicks: false },
          border: { display: false },
          ticks: { color: AXIS_GREY, font: { size: 14 }, padding: 6, autoSkip: false },
          title: { display: true, text: 'Conservative temperature (deg C)', color: AXIS_GREY, font: { size: 15 }, padding: { top: 0, bottom: 2 } },
        },
      },
    },
    plugins: [
      framePlugin({ top: true, bottom: true, left: true, right: true }, 4),
      dataTextPlugin(isoLabelText, isoLabelSalinity, isoLabelTemperature, '14px "Liberation Sans"', '#222', 0, -9),
      pageTextPlugin([
        { text: 'Section I', x: 983, y: 96, font: 'bold 15.5px "Liberation Sans"', color: '#222' },
        { text: 'Pressure = 0 dbars', x: 810, y: 114, font: '13.6px "Liberation Sans"', align: 'left' },
        { text: '(c)', x: 832, y: 152, font: 'bold 25px Lato', color: '#111' },
      ]),
    ],
  })
}

const ctProfiles = [ctStation01, ctStation02, ctStation03, ctStation04, ctStation05, ctStation06, ctStation07, ctStation08, ctStation09, ctStation10, ctStation11, ctStation12, ctStation13]
const saProfiles = [saStation01, saStation02, saStation03, saStation04, saStation05, saStation06, saStation07, saStation08, saStation09, saStation10, saStation11, saStation12, saStation13]

sectionChart({ left: 96.5, right: 659.3, top: 29, bottom: 244.5 }, ctProfiles, -2, 3.5, {
  texts: [
    { text: 'Section I', x: 378, y: 16, font: 'bold 19.5px "Liberation Sans"', color: '#222' },
    { text: '(a)', x: 124, y: 217, font: 'bold 24px Lato', color: '#111' },
  ],
})
sectionChart({ left: 96.5, right: 659.3, top: 329, bottom: 543.5 }, saProfiles, 30, 35.5, {
  showLatitudes: true,
  showDistanceTitle: true,
  texts: [
    { text: 'Latitude (°N)', x: 12, y: 309, font: '14px "Liberation Sans"', color: '#3030f0', align: 'left' },
    { text: '(b)', x: 125, y: 512, font: 'bold 24px Lato', color: '#111' },
  ],
})
colorbarChart({ left: 675, right: 707.3, top: 29, bottom: 244.5 }, -2, 3.5, ctTicks, 30, 18, 8, 3, [
  { text: 'CT (°C)', x: 750, y: 137, rotate: -Math.PI / 2, font: '16.5px "Liberation Sans"' },
])
colorbarChart({ left: 675, right: 707.3, top: 329, bottom: 543.5 }, 30, 35.5, saTicks, 30, 18, 8, 3, [
  { text: 'SA (g/kg)', x: 750, y: 436, rotate: -Math.PI / 2, font: '16.5px "Liberation Sans"' },
])
tsChart({ left: 805.7, right: 1160.3, top: 105, bottom: 459.3 })
colorbarChart({ left: 1171.3, right: 1193.3, top: 105, bottom: 459.3 }, 81.5, 83, latitudeTicks, 34, 13, 5, 3, [
  { text: 'Latitude (°N)', x: 1238, y: 282, rotate: -Math.PI / 2, font: '13px "Liberation Sans"' },
])
</script>
</body>
</html>
